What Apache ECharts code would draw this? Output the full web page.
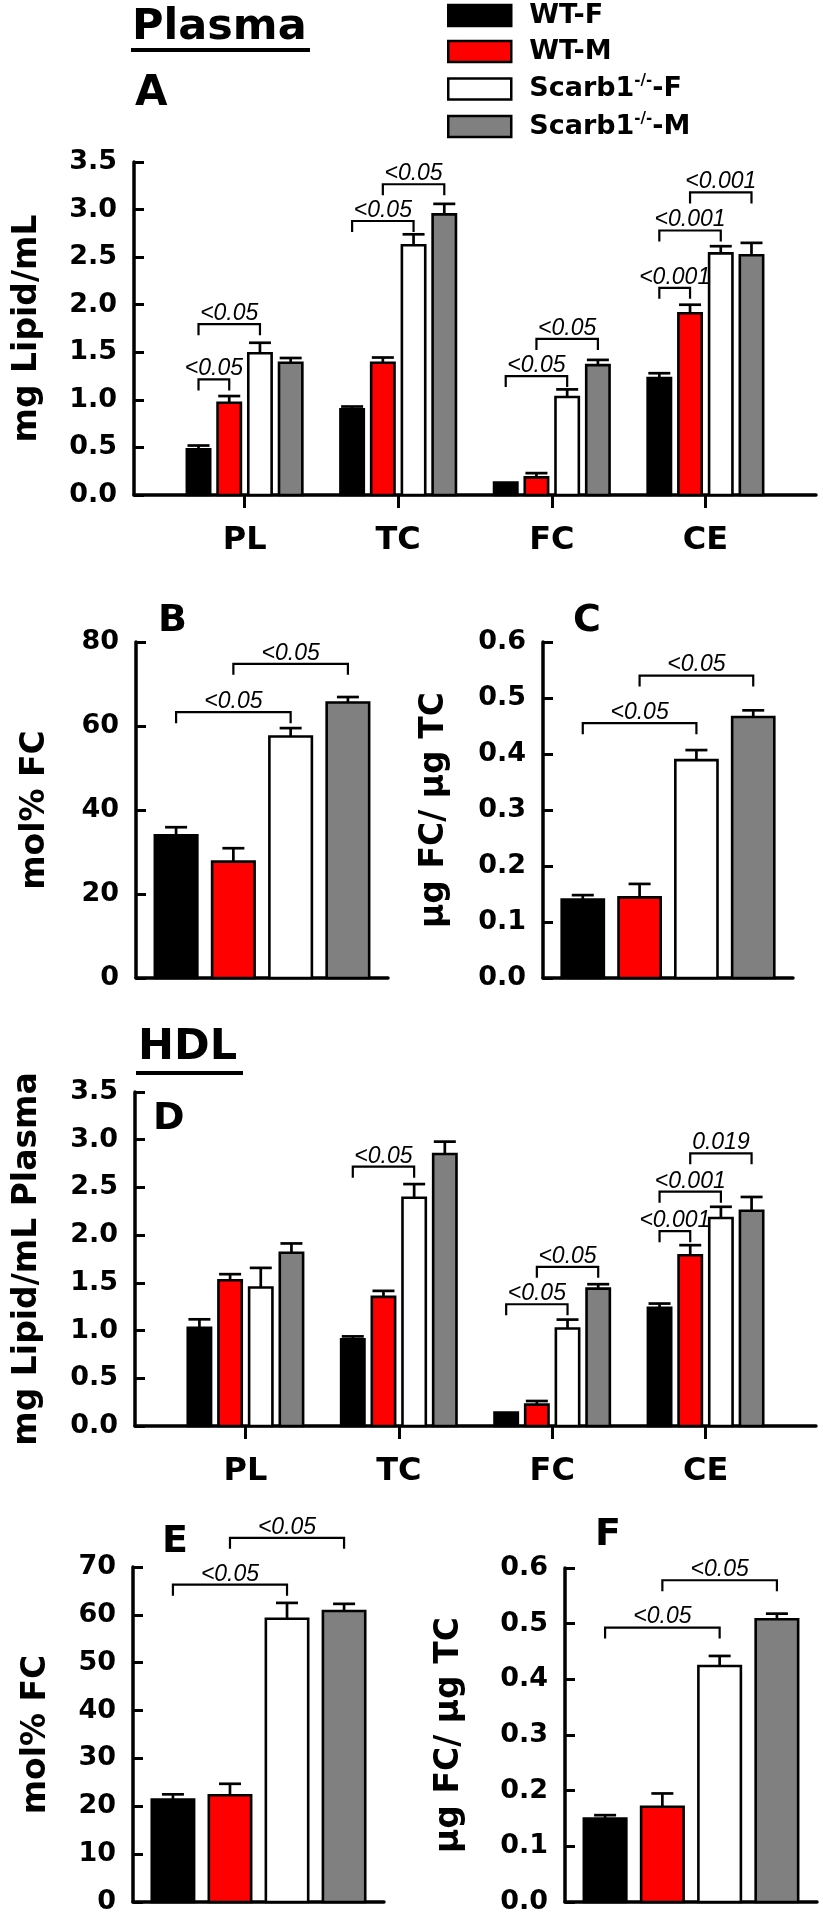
<!DOCTYPE html>
<html><head><meta charset="utf-8">
<script src="https://cdn.jsdelivr.net/npm/echarts@6/dist/echarts.min.js"></script>
<style>html,body{margin:0;padding:0;background:#fff}#c{width:823px;height:1920px}</style>
</head><body><div id="c"></div>
<script>
// ---------- data ----------
const LIPIDS = ['PL', 'TC', 'FC', 'CE'];
const GROUPS = ['WT-F', 'WT-M', 'Scarb1-/--F', 'Scarb1-/--M'];

// Panel A: Plasma lipids (mg lipid/mL), order PL, TC, FC, CE
const A_WT_F = [0.48, 0.90, 0.13, 1.23];
const A_WT_F_ERR = [0.04, 0.03, 0.0, 0.05];
const A_WT_M = [0.97, 1.39, 0.185, 1.91];
const A_WT_M_ERR = [0.07, 0.055, 0.045, 0.09];
const A_KO_F = [1.49, 2.625, 1.03, 2.54];
const A_KO_F_ERR = [0.11, 0.115, 0.08, 0.075];
const A_KO_M = [1.39, 2.95, 1.365, 2.52];
const A_KO_M_ERR = [0.05, 0.11, 0.055, 0.13];
// [lipid, fromGroup, toGroup, bracket level, label]
const A_SIG = [
  [0, 0, 1, 1.215, '<0.05'], [0, 0, 2, 1.795, '<0.05'],
  [1, 0, 2, 2.88, '<0.05'], [1, 1, 3, 3.266, '<0.05'],
  [2, 0, 2, 1.25, '<0.05'], [2, 1, 3, 1.64, '<0.05'],
  [3, 0, 1, 2.177, '<0.001'], [3, 0, 2, 2.78, '<0.001'], [3, 1, 3, 3.18, '<0.001']
];

// Panel B: Plasma mol% FC (WT-F, WT-M, Scarb1-F, Scarb1-M)
const B_MEAN = [34.0, 27.7, 57.5, 65.6];
const B_ERR = [1.9, 3.2, 2.0, 1.3];
const B_SIG = [[0, 2, 63.3, '<0.05'], [1, 3, 74.8, '<0.05']];

// Panel C: Plasma ug FC / ug TC
const C_MEAN = [0.140, 0.144, 0.389, 0.466];
const C_ERR = [0.008, 0.024, 0.018, 0.012];
const C_SIG = [[0, 2, 0.455, '<0.05'], [1, 3, 0.540, '<0.05']];

// Panel D: HDL lipids (mg lipid/mL plasma)
const D_WT_F = [1.028, 0.909, 0.14, 1.238];
const D_WT_F_ERR = [0.09, 0.03, 0.0, 0.045];
const D_WT_M = [1.528, 1.353, 0.224, 1.79];
const D_WT_M_ERR = [0.063, 0.063, 0.038, 0.105];
const D_KO_F = [1.451, 2.392, 1.021, 2.18];
const D_KO_F_ERR = [0.206, 0.143, 0.094, 0.117];
const D_KO_M = [1.815, 2.85, 1.44, 2.255];
const D_KO_M_ERR = [0.098, 0.13, 0.046, 0.145];
const D_SIG = [
  [1, 0, 2, 2.717, '<0.05'],
  [2, 0, 2, 1.276, '<0.05'], [2, 1, 3, 1.668, '<0.05'],
  [3, 0, 1, 2.042, '<0.001'], [3, 0, 2, 2.455, '<0.001'], [3, 1, 3, 2.857, '0.019']
];

// Panel E: HDL mol% FC
const E_MEAN = [21.4, 22.3, 59.2, 60.8];
const E_ERR = [1.1, 2.4, 3.3, 1.5];
const E_SIG = [[0, 2, 66.3, '<0.05'], [1, 3, 76.1, '<0.05']];

// Panel F: HDL ug FC / ug TC
const F_MEAN = [0.150, 0.171, 0.424, 0.508];
const F_ERR = [0.006, 0.024, 0.018, 0.010];
const F_SIG = [[0, 2, 0.493, '<0.05'], [1, 3, 0.578, '<0.05']];

// ---------- style ----------
const FILLS = ['#000000', '#ff0000', '#ffffff', '#808080'];
const OFF = [-0.3, -0.1, 0.1, 0.3];
const BOLD = 'DejaVu Sans';
const SIGFONT = 'italic 23px "Liberation Sans", Arial, sans-serif';

function barSeries(ax, g, means, errs, grouped) {
  const wUnits = grouped ? 0.152 : 0.742;
  return {
    type: 'custom', name: GROUPS[g], xAxisIndex: ax, yAxisIndex: ax, clip: false,
    itemStyle: { color: FILLS[g], borderColor: '#000', borderWidth: 2.5 },
    encode: { x: 0, y: 1 },
    data: grouped ? means.map((m, i) => [i + OFF[g], m, errs[i]]) : [[g, means[g], errs[g]]],
    renderItem: function (params, api) {
      const x = api.value(0), m = api.value(1), e = api.value(2);
      const base = api.coord([x, 0]);
      const top = api.coord([x, m]);
      const w = api.size([wUnits, 0])[0];
      const kids = [{
        type: 'rect',
        shape: { x: base[0] - w / 2, y: top[1], width: w, height: base[1] - top[1] },
        style: { fill: FILLS[g], stroke: '#000', lineWidth: 2.6 }
      }];
      if (e > 0) {
        const et = api.coord([x, m + e]);
        kids.push({ type: 'line', shape: { x1: top[0], y1: top[1], x2: et[0], y2: et[1] }, style: { stroke: '#000', lineWidth: 2.7 } });
        kids.push({ type: 'line', shape: { x1: et[0] - 11, y1: et[1], x2: et[0] + 11, y2: et[1] }, style: { stroke: '#000', lineWidth: 2.7 } });
      }
      return { type: 'group', children: kids };
    }
  };
}

function sigSeries(ax, sig, grouped) {
  const data = grouped
    ? sig.map(s => [s[0] + OFF[s[1]], s[0] + OFF[s[2]], s[3]])
    : sig.map(s => [s[0], s[1], s[2]]);
  const labels = sig.map(s => s[s.length - 1]);
  return {
    type: 'custom', xAxisIndex: ax, yAxisIndex: ax, clip: false, silent: true,
    encode: { x: [0, 1], y: 2 },
    data: data,
    renderItem: function (params, api) {
      const a = api.coord([api.value(0), api.value(2)]);
      const b = api.coord([api.value(1), api.value(2)]);
      return {
        type: 'group', children: [
          { type: 'polyline', shape: { points: [[a[0], a[1] + 11], [a[0], a[1]], [b[0], b[1]], [b[0], b[1] + 11]] },
            style: { fill: 'none', stroke: '#000', lineWidth: 2.2 } },
          { type: 'text', x: (a[0] + b[0]) / 2, y: a[1] + 1,
            style: { text: labels[params.dataIndex], font: SIGFONT, fill: '#000',
              textAlign: 'center', textVerticalAlign: 'bottom', align: 'center', verticalAlign: 'bottom' } }
        ]
      };
    }
  };
}

function yAxis(idx, max, interval, dec, name, gap) {
  return {
    type: 'value', gridIndex: idx, min: 0, max: max, interval: interval,
    name: name, nameLocation: 'middle', nameGap: gap, nameMoveOverlap: false,
    nameTextStyle: { fontFamily: BOLD, fontWeight: 'bold', fontSize: 33, color: '#000' },
    axisLine: { show: true, onZero: false, lineStyle: { color: '#000', width: 3.5 } },
    axisTick: { show: true, inside: true, length: 10, lineStyle: { color: '#000', width: 3 } },
    axisLabel: { fontFamily: BOLD, fontWeight: 'bold', fontSize: 27, color: '#000', margin: 17,
      formatter: v => v.toFixed(dec) },
    splitLine: { show: false }
  };
}

function xAxis(idx, grouped) {
  const ax = {
    type: 'value', gridIndex: idx, min: grouped ? -0.72 : -0.7, max: grouped ? 3.72 : 3.7,
    axisLine: { show: true, onZero: false, lineStyle: { color: '#000', width: 3.5 } },
    splitLine: { show: false }
  };
  if (grouped) {
    ax.axisTick = { show: true, customValues: [0, 1, 2, 3], length: 13, lineStyle: { color: '#000', width: 3 } };
    ax.axisLabel = { show: true, customValues: [0, 1, 2, 3], formatter: v => LIPIDS[Math.round(v)],
      fontFamily: BOLD, fontWeight: 'bold', fontSize: 32, color: '#000', margin: 30 };
  } else {
    ax.axisTick = { show: false };
    ax.axisLabel = { show: false };
  }
  return ax;
}

const grids = [
  { left: 134, top: 162, width: 682, height: 333 },   // A
  { left: 136, top: 642, width: 252, height: 336 },   // B
  { left: 543, top: 642, width: 250, height: 336 },   // C
  { left: 135, top: 1092, width: 681, height: 334 },  // D
  { left: 133, top: 1567, width: 251, height: 335 },  // E
  { left: 565, top: 1568, width: 252, height: 334 }   // F
].map(g => Object.assign({ outerBoundsMode: 'none', containLabel: false }, g));

const series = [];
[[A_WT_F, A_WT_F_ERR], [A_WT_M, A_WT_M_ERR], [A_KO_F, A_KO_F_ERR], [A_KO_M, A_KO_M_ERR]]
  .forEach((d, g) => series.push(barSeries(0, g, d[0], d[1], true)));
series.push(sigSeries(0, A_SIG, true));
[0, 1, 2, 3].forEach(g => series.push(barSeries(1, g, B_MEAN, B_ERR, false)));
series.push(sigSeries(1, B_SIG, false));
[0, 1, 2, 3].forEach(g => series.push(barSeries(2, g, C_MEAN, C_ERR, false)));
series.push(sigSeries(2, C_SIG, false));
[[D_WT_F, D_WT_F_ERR], [D_WT_M, D_WT_M_ERR], [D_KO_F, D_KO_F_ERR], [D_KO_M, D_KO_M_ERR]]
  .forEach((d, g) => series.push(barSeries(3, g, d[0], d[1], true)));
series.push(sigSeries(3, D_SIG, true));
[0, 1, 2, 3].forEach(g => series.push(barSeries(4, g, E_MEAN, E_ERR, false)));
series.push(sigSeries(4, E_SIG, false));
[0, 1, 2, 3].forEach(g => series.push(barSeries(5, g, F_MEAN, F_ERR, false)));
series.push(sigSeries(5, F_SIG, false));

function label(text, x, y, size) {
  return { type: 'text', x: x, y: y, z: 10,
    style: { text: text, font: 'bold ' + size + 'px "DejaVu Sans"', fill: '#000',
      textAlign: 'left', textVerticalAlign: 'middle', align: 'left', verticalAlign: 'middle' } };
}

const option = {
  animation: false,
  backgroundColor: '#fff',
  grid: grids,
  xAxis: [xAxis(0, true), xAxis(1, false), xAxis(2, false), xAxis(3, true), xAxis(4, false), xAxis(5, false)],
  yAxis: [
    yAxis(0, 3.5, 0.5, 1, 'mg Lipid/mL', 90),
    yAxis(1, 80, 20, 0, 'mol% FC', 84),
    yAxis(2, 0.6, 0.1, 1, 'µg FC/ µg TC', 92),
    yAxis(3, 3.5, 0.5, 1, 'mg Lipid/mL Plasma', 91),
    yAxis(4, 70, 10, 0, 'mol% FC', 80),
    yAxis(5, 0.6, 0.1, 1, 'µg FC/ µg TC', 99)
  ],
  legend: {
    orient: 'vertical', left: 447, top: 2, padding: 0,
    itemWidth: 63, itemHeight: 21, itemGap: 9, icon: 'rect', selectedMode: false,
    data: GROUPS,
    itemStyle: { borderColor: '#000', borderWidth: 2.5 },
    formatter: name => name.indexOf('Scarb1') === 0
      ? '{n|Scarb1}{s|-/-}{n|' + name.slice(9) + '}'
      : '{n|' + name + '}',
    textStyle: {
      padding: [0, 0, 0, 13],
      rich: {
        n: { fontFamily: BOLD, fontWeight: 'bold', fontSize: 27, color: '#000', lineHeight: 30 },
        s: { fontFamily: BOLD, fontWeight: 'bold', fontSize: 15, color: '#000', lineHeight: 16, verticalAlign: 'top' }
      }
    }
  },
  graphic: [
    label('Plasma', 132, 28, 43),
    { type: 'rect', shape: { x: 131, y: 48, width: 179, height: 4 }, style: { fill: '#000' } },
    label('HDL', 138, 1048, 43),
    { type: 'rect', shape: { x: 136, y: 1071, width: 107, height: 4 }, style: { fill: '#000' } },
    label('A', 135, 94, 42),
    label('B', 158, 621, 38),
    label('C', 573, 621, 38),
    label('D', 153, 1119, 38),
    label('E', 162, 1542, 38),
    label('F', 595, 1535, 38)
  ],
  series: series
};

const chart = echarts.init(document.getElementById('c'), null, { renderer: 'canvas' });
chart.setOption(option);
</script>
</body></html>
